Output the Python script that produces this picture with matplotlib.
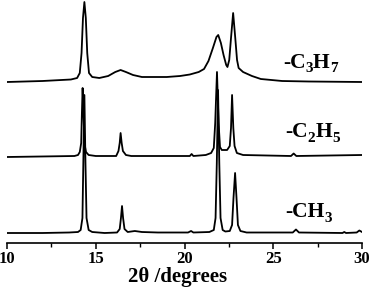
import matplotlib
matplotlib.use("Agg")
import matplotlib.pyplot as plt
import matplotlib.transforms as mtrans
from matplotlib.ticker import MultipleLocator

plt.rcParams['font.family'] = ['Liberation Serif', 'DejaVu Serif']
plt.rcParams['font.weight'] = 'bold'

# ---- data (2theta in degrees, stacked intensity in arbitrary units) ----
ch3_x = [10.0, 12.0, 13.5, 14.0, 14.15, 14.25, 14.3, 14.36, 14.42, 14.48, 14.6, 14.8,
         15.5, 16.2, 16.35, 16.42, 16.48, 16.54, 16.62, 16.8, 17.2, 17.6, 18.5, 20.2,
         20.37, 20.5, 21.4, 21.65, 21.75, 21.82, 21.89, 21.96, 22.03, 22.15, 22.3, 22.55,
         22.68, 22.76, 22.85, 22.93, 23.01, 23.15, 23.5, 26.1, 26.28, 26.45, 28.9, 29.0,
         29.1, 29.7, 29.85, 30.0]
ch3_y = [10, 10, 10.5, 11, 13, 25, 80, 148, 80, 25, 13, 11,
         10, 10.5, 14, 25, 37, 25, 14, 11, 12, 11, 10.5, 10.5,
         12, 10.5, 11, 13, 25, 80, 153, 80, 25, 13, 11.5, 12,
         18, 45, 70, 45, 18, 12, 10.5, 10.5, 13.5, 10.5, 10, 11,
         10, 10.5, 12.5, 11]

c2h5_x = [10.0, 13.8, 14.0, 14.1, 14.18, 14.22, 14.26, 14.31, 14.36, 14.45, 14.6, 15.0,
          16.15, 16.28, 16.35, 16.4, 16.46, 16.53, 16.7, 17.0, 20.3, 20.4, 20.5, 21.2,
          21.5, 21.65, 21.73, 21.83, 21.92, 22.0, 22.1, 22.4, 22.55, 22.62, 22.68, 22.75,
          22.82, 22.95, 23.3, 26.0, 26.15, 26.3, 30.0]
c2h5_y = [86, 87, 88, 91, 100, 130, 155, 130, 100, 91, 88, 87,
          87, 92, 100, 110, 100, 92, 88, 87, 87, 89, 87, 88,
          90, 95, 120, 171, 120, 96, 93, 93, 97, 115, 148, 115,
          97, 90, 88, 87, 89.5, 87, 88]

c3h7_x = [10.0, 12.0, 13.6, 13.95, 14.1, 14.2, 14.28, 14.36, 14.44, 14.52, 14.62, 14.8,
          15.2, 15.7, 16.1, 16.4, 16.7, 17.1, 17.6, 18.1, 19.0, 19.75, 20.3, 20.8,
          21.1, 21.35, 21.6, 21.8, 21.9, 22.05, 22.2, 22.35, 22.42, 22.52, 22.62, 22.74,
          22.86, 22.96, 23.05, 23.3, 23.8, 24.3, 25.5, 27.0, 30.0]
c3h7_y = [161, 162, 163.5, 165, 170, 190, 225, 241, 225, 190, 170, 166,
          165, 167, 171, 173, 171, 168, 166, 166, 166, 167, 168.5, 171,
          174, 182, 195, 206, 208, 200, 188, 178, 176, 183, 205, 230,
          205, 183, 175, 171, 167, 164, 162, 161.5, 161]

# label pieces: (main text, subscript) pairs
labels = [[('-CH', '3')], [('-C', '2'), ('H', '5')], [('-C', '3'), ('H', '7')]]
xticks = [10, 15, 20, 25, 30]

fig = plt.figure(figsize=(3.70, 2.88), dpi=100)
ax = fig.add_axes([7/370, 1 - 243/288, 355/370, 243/288])

for xs, ys in [(ch3_x, ch3_y), (c2h5_x, c2h5_y), (c3h7_x, c3h7_y)]:
    ax.plot(xs, ys, color='black', lw=1.3, solid_joinstyle='round')

ax.set_xlim(10, 30)
ax.set_ylim(0, 243)

fig.canvas.draw()
renderer = fig.canvas.get_renderer()


def draw_label(x, y, parts, size=15.5, subsize=11, drop=4.5):
    """Write main text and lowered subscripts piece by piece (offsets in pixels)."""
    dx = 0.0
    for main, sub in parts:
        tr = mtrans.offset_copy(ax.transData, fig=fig, x=dx, y=0, units='dots')
        t = ax.text(x, y, main, fontsize=size, fontweight='bold', ha='left',
                    va='baseline', transform=tr)
        dx += t.get_window_extent(renderer).width
        tr = mtrans.offset_copy(ax.transData, fig=fig, x=dx, y=-drop, units='dots')
        t = ax.text(x, y, sub, fontsize=subsize, fontweight='bold', ha='left',
                    va='baseline', transform=tr)
        dx += t.get_window_extent(renderer).width


draw_label(25.66, 26, labels[0])
draw_label(25.66, 106, labels[1])
draw_label(25.55, 175, labels[2])

for s in ['left', 'right', 'top']:
    ax.spines[s].set_visible(False)
ax.spines['bottom'].set_linewidth(1.2)
ax.set_yticks([])
ax.set_xticks(xticks)
ax.set_xticklabels([str(t) for t in xticks])
ax.xaxis.set_minor_locator(MultipleLocator(2.5))
ax.tick_params(axis='x', which='major', direction='out', length=4, width=1.1,
               labelsize=12, pad=2)
ax.tick_params(axis='x', which='minor', direction='out', length=3, width=1.0)
for lab in ax.get_xticklabels():
    lab.set_fontweight('bold')
ax.set_xlabel('2\u03b8 /degrees', fontsize=15, fontweight='bold')
ax.xaxis.set_label_coords(0.48, -0.097, transform=ax.transAxes)
ax.xaxis.label.set_va('top')
ax.patch.set_visible(False)

fig.savefig('out.png', dpi=100)
